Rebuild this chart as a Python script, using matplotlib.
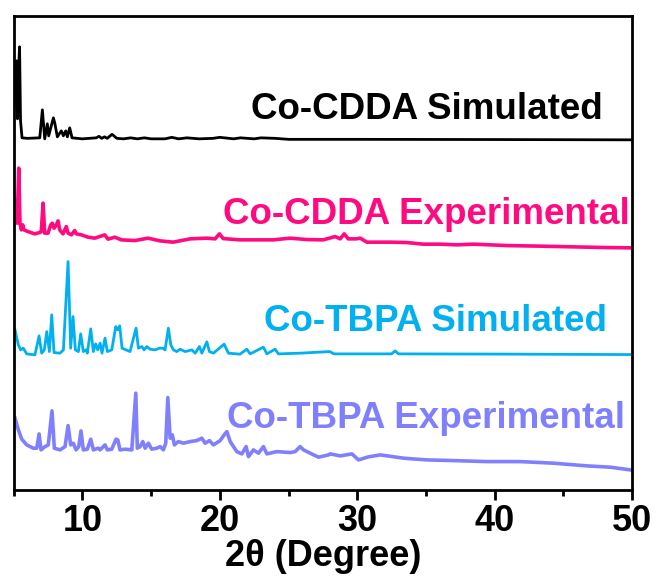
import matplotlib
matplotlib.use("Agg")
import matplotlib.pyplot as plt
from matplotlib.ticker import MultipleLocator

# Co-CDDA simulated (black)
cdda_sim_2theta = [5.0, 5.12, 5.20, 5.27, 5.34, 5.42, 5.49, 5.60, 6.0, 6.89, 7.08, 7.25,
                   7.44, 7.54, 7.88, 7.98, 8.17, 8.46, 8.61, 8.78, 8.90, 9.07, 9.24, 10.0,
                   11.0, 11.2, 11.4, 11.6, 11.8, 12.15, 12.5, 13.0, 13.5, 14.0, 14.5, 15.0,
                   16.0, 16.5, 17.0, 17.6, 18.5, 19.5, 20.0, 21.0, 21.5, 22.5, 23.0, 24.0,
                   25.0, 30.0, 40.0, 50.0]
cdda_sim_int = [20, 75, 79, 21, 69, 93, 19, 2, 1.5, 2, 30, 1,
                16, 4, 22, 17, 3, 9, 4, 9, 3, 12, 2, 1,
                2, 3.5, 1.5, 3, 1.5, 5.5, 1.5, 1, 2, 1, 2, 1,
                1, 2.5, 1, 2, 1, 1.5, 2.5, 1, 2, 1, 2, 1.5,
                0.5, 0.5, 0.3, 0]

# Co-CDDA experimental (pink)
cdda_exp_2theta = [5.01, 5.07, 5.11, 5.25, 5.36, 5.45, 5.55, 5.65, 5.74, 6.03, 6.52, 6.89,
                   7.0, 7.13, 7.25, 7.49, 7.69, 7.80, 7.93, 8.10, 8.22, 8.34, 8.58, 8.82,
                   8.95, 9.19, 9.43, 9.55, 9.92, 10.40, 10.89, 11.62, 11.86, 12.35, 12.83,
                   13.81, 14.77, 15.65, 16.6, 17.83, 19.05, 19.65, 19.97, 20.24, 21.47,
                   23.88, 25.12, 26.33, 27.52, 28.39, 28.76, 29.05, 29.34, 29.92, 30.21,
                   30.70, 32.4, 33.62, 34.8, 36.04, 37.26, 38.45, 40.9, 43.33, 45.73,
                   48.18, 50.0]
cdda_exp_int = [24.7, 48, 46, 24.7, 79.7, 24.7, 18, 23, 18, 16.3, 14, 15.3,
                16.3, 44.7, 14.7, 14.7, 23, 24.7, 19.7, 23, 27, 18, 14, 21.3,
                14.7, 13, 17.3, 14, 13, 10.7, 9.7, 13, 8.7, 10.7, 8,
                7.3, 9.7, 7, 5.7, 9, 9.7, 9, 14, 9.3, 8,
                8, 9.7, 8.3, 8, 11.3, 9, 14, 9, 9, 9.7,
                5.7, 5.7, 5.3, 3.7, 3.7, 3, 3.7, 2.3, 1.7, 1,
                0.3, 0]

# Co-TBPA simulated (cyan)
tbpa_sim_2theta = [5.09, 5.33, 5.50, 5.69, 5.94, 6.54, 6.84, 7.03, 7.22, 7.40, 7.59, 7.76,
                   7.93, 8.36, 8.61, 8.95, 9.14, 9.31, 9.48, 9.70, 9.87, 10.06, 10.26,
                   10.35, 10.60, 10.79, 10.96, 11.11, 11.28, 11.42, 11.64, 11.81, 12.13,
                   12.42, 12.57, 12.71, 12.88, 13.17, 13.46, 13.90, 14.07, 14.32, 14.48,
                   14.68, 14.92, 15.28, 15.60, 15.84, 16.01, 16.25, 16.43, 16.62, 16.86,
                   17.10, 17.47, 17.96, 18.20, 18.51, 18.69, 19.05, 19.24, 19.53, 20.31,
                   20.62, 21.47, 21.96, 22.20, 23.17, 23.42, 24.02, 24.26, 25.84, 28.0,
                   28.3, 32.5, 32.76, 33.0, 40.0, 49.9]
tbpa_sim_int = [25, 10, 5, 6.7, 1, 0, 19, 1.7, 5, 23.3, 3.3, 40,
                2.3, 1.7, 5, 93.3, 6.7, 38.3, 5, 3.3, 21, 3.3, 5,
                1.7, 26, 3.3, 11, 5, 11.7, 1.7, 16.7, 3.3, 5,
                28.3, 25, 29, 6.7, 5, 3.3, 26.7, 6.7, 8.3, 5,
                8.3, 5.7, 5, 6.7, 6.7, 5, 26.7, 10, 5, 3.3,
                5.7, 3.3, 5, 1.7, 8.3, 1.7, 13, 3.3, 1.7, 10.7,
                1.7, 0.7, 5.7, 1, 7.7, 1, 5.7, 1, 1.7, 3.3,
                1, 1, 4, 1, 0.8, 0.3]

# Co-TBPA experimental (purple)
tbpa_exp_2theta = [5.09, 5.33, 5.58, 5.94, 6.42, 6.67, 6.84, 6.98, 7.27, 7.51, 7.78, 7.95,
                   8.36, 8.73, 8.95, 9.14, 9.33, 9.53, 9.73, 9.89, 10.06, 10.35, 10.60,
                   10.79, 11.15, 11.28, 11.64, 11.81, 12.13, 12.44, 12.57, 12.73, 13.10,
                   13.59, 13.88, 13.99, 14.19, 14.39, 14.56, 14.80, 15.04, 15.41, 15.65,
                   15.89, 16.06, 16.21, 16.38, 16.54, 16.69, 16.98, 17.35, 17.83, 18.32,
                   18.69, 18.93, 19.24, 19.53, 20.02, 20.31, 20.51, 20.75, 21.23, 21.60,
                   21.91, 22.08, 22.44, 22.81, 23.17, 23.42, 24.15, 25.12, 25.48, 25.84,
                   26.09, 26.57, 27.18, 27.91, 28.03, 28.76, 29.61, 30.09, 30.80, 31.67,
                   33.37, 35.07, 37.01, 39.44, 41.87, 44.29, 46.72, 48.42, 49.88]
tbpa_exp_int = [51.7, 40, 30.7, 25, 21.7, 21.7, 36, 20, 23.3, 25, 59, 21.7,
                20, 23.3, 44.3, 25, 26.7, 20, 23.3, 39, 20, 20.7, 30.7,
                20, 21.7, 20, 25, 20, 20.7, 30.7, 30, 20, 20.7,
                20, 76.7, 21.7, 23.3, 28.3, 21.7, 26.7, 20.7, 21.7, 23.3,
                20, 26.7, 72.3, 31.7, 35, 25, 28.3, 26.7, 28.3, 29.3,
                31.7, 26.7, 29.3, 25, 29.3, 35, 38.3, 28.3, 18.3, 16,
                23.3, 13.3, 20, 16.7, 23.3, 16, 18.3, 17.3, 18.3, 23.3,
                20, 16.7, 12.7, 15, 16, 14, 16, 10, 13, 15,
                11.7, 10, 9.3, 8.3, 8.3, 6.7, 4, 2.7, 0]

labels = ["Co-CDDA Simulated", "Co-CDDA Experimental",
          "Co-TBPA Simulated", "Co-TBPA Experimental"]
colors = ["black", "#FF0A80", "#00B0F0", "#8080FF"]
offsets = [350, 242, 135, 20]
widths = [2.0, 2.6, 2.0, 2.6]
label_x = [47.9, 49.8, 48.15, 49.5]
label_y = [371, 266, 159, 62]

series = [(cdda_sim_2theta, cdda_sim_int), (cdda_exp_2theta, cdda_exp_int),
          (tbpa_sim_2theta, tbpa_sim_int), (tbpa_exp_2theta, tbpa_exp_int)]

fig = plt.figure(figsize=(6.57, 5.86), dpi=100)
ax = fig.add_axes([0.021, 0.164, 0.941, 0.809])

for (tt, inten), c, off, w, lab, lx, ly in zip(series, colors, offsets, widths,
                                               labels, label_x, label_y):
    ax.plot(tt, [v + off for v in inten], color=c, lw=w, solid_joinstyle="round")
    ax.text(lx, ly, lab, color=c, ha="right", va="baseline", fontsize=26.5,
            fontweight="bold", family=["Liberation Sans", "DejaVu Sans"])

ax.set_xlim(5, 50)
ax.set_ylim(0, 474)
ax.set_yticks([])
ax.xaxis.set_major_locator(MultipleLocator(10))
ax.xaxis.set_minor_locator(MultipleLocator(5))
ax.tick_params(axis="x", which="major", direction="out", length=7, width=2.0, pad=3)
ax.tick_params(axis="x", which="minor", direction="out", length=4, width=2.0)
for lbl in ax.get_xticklabels():
    lbl.set_fontfamily(["Liberation Sans", "DejaVu Sans"])
    lbl.set_fontweight("bold")
    lbl.set_fontsize(26)
for sp in ax.spines.values():
    sp.set_linewidth(2.0)

ax.set_xlabel("2θ (Degree)", fontsize=26, fontweight="bold", labelpad=0,
              family=["Liberation Sans", "DejaVu Sans"])

fig.savefig("out.png", dpi=100)
